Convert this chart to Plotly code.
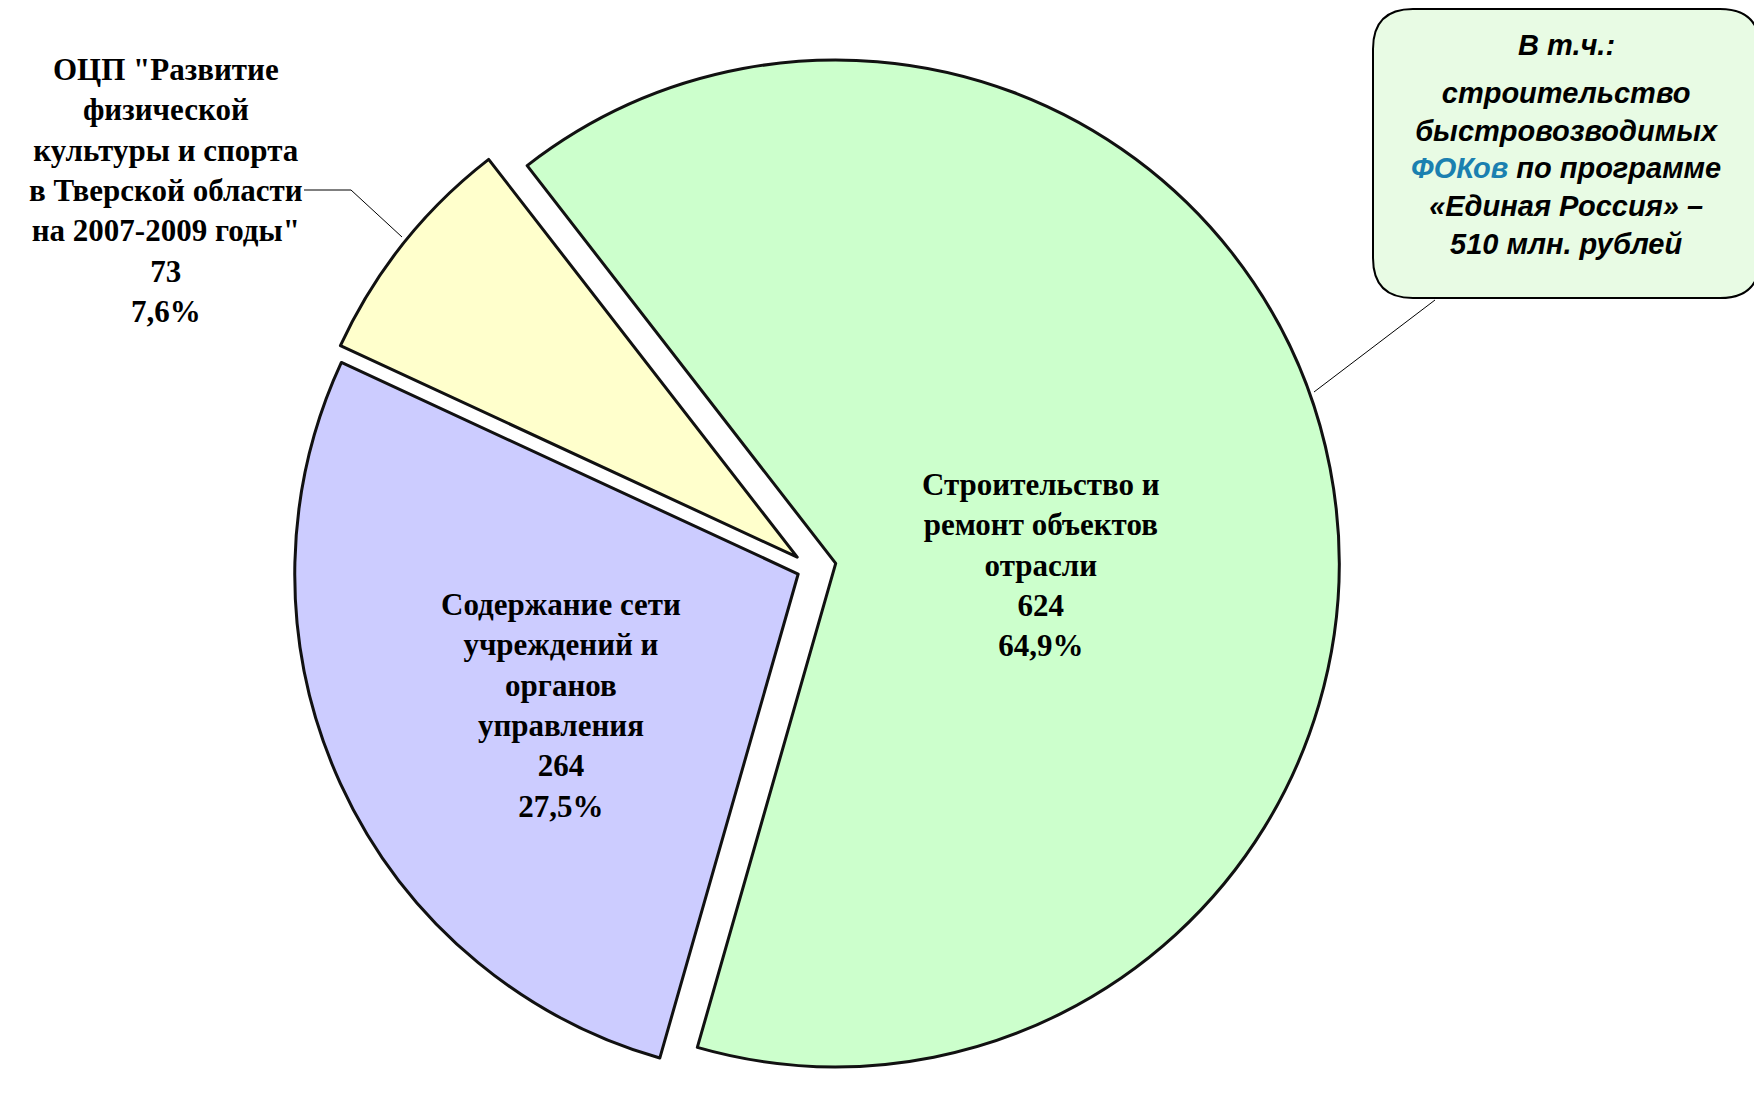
import plotly.graph_objects as go

# data
labels = ["Строительство и<br>ремонт объектов<br>отрасли",
          "Содержание сети<br>учреждений и<br>органов<br>управления",
          "ОЦП \"Развитие<br>физической<br>культуры и спорта<br>в Тверской области<br>на 2007-2009 годы\""]
values = [624, 264, 73]
colors = ["#CCFFCC", "#CCCCFF", "#FFFFCC"]
pulls = [0.05, 0.028, 0.035]

total = sum(values)
pcts = [f"{v / total * 100:.1f}".replace(".", ",") for v in values]
texts = [f"<b>{l}<br>{v}<br>{p}%</b>" for l, v, p in zip(labels, values, pcts)]

W, H = 1762, 1093
OFF = 8  # page margin of the html body


def px(x, y):
    # on-screen pixel position -> paper coords
    return (x - OFF) / W, 1 - (y - OFF) / H


cxp = (811 - OFF) / W
fig = go.Figure(go.Pie(
    labels=labels, values=values, sort=False, direction="clockwise",
    rotation=-37.8, pull=pulls, textinfo="none", hoverinfo="skip",
    marker=dict(colors=colors, line=dict(color="#111111", width=3)),
    domain=dict(x=[cxp - 0.3, cxp + 0.3], y=[0, 0.975]), showlegend=False,
))

serif = dict(family="Liberation Serif", size=31, color="black")
label_pos = [(1041, 565), (561, 705), (166, 190)]
for t, (x, y) in zip(texts, label_pos):
    ax, ay = px(x, y)
    fig.add_annotation(x=ax, y=ay, xref="paper", yref="paper", text=t,
                       xanchor="center", yanchor="middle",
                       showarrow=False, font=serif, align="center")

# leader line for the small slice
x0, y0 = px(304, 190)
x1, y1 = px(351, 190)
x2, y2 = px(402, 237)
fig.add_shape(type="path", xref="paper", yref="paper",
              path=f"M {x0},{y0} L {x1},{y1} L {x2},{y2}",
              line=dict(color="black", width=1))

# rounded callout box
bx0, by1 = px(1373, 9)
bx1, by0 = px(1760, 298)
rx, ry = 40 / W, 40 / H
box = (f"M {bx0 + rx},{by1} L {bx1 - rx},{by1} Q {bx1},{by1} {bx1},{by1 - ry} "
       f"L {bx1},{by0 + ry} Q {bx1},{by0} {bx1 - rx},{by0} "
       f"L {bx0 + rx},{by0} Q {bx0},{by0} {bx0},{by0 + ry} "
       f"L {bx0},{by1 - ry} Q {bx0},{by1} {bx0 + rx},{by1} Z")
fig.add_shape(type="path", xref="paper", yref="paper", path=box,
              fillcolor="#E8FBE4", line=dict(color="black", width=2))
tx0, ty0 = px(1435, 300)
tx1, ty1 = px(1314, 392)
fig.add_shape(type="line", xref="paper", yref="paper", x0=tx0, y0=ty0, x1=tx1, y1=ty1,
              line=dict(color="black", width=1))

sans = dict(family="Liberation Sans", size=29, color="black")
hx, hy = px(1566, 45)
fig.add_annotation(x=hx, y=hy, xref="paper", yref="paper", showarrow=False,
                   xanchor="center", yanchor="middle",
                   text="<b><i>В т.ч.:</i></b>", font=sans)
cx, cy = px(1566, 168)
fig.add_annotation(x=cx, y=cy, xref="paper", yref="paper", showarrow=False, align="center",
                   xanchor="center", yanchor="middle",
                   text="<b><i>строительство<br>быстровозводимых<br>"
                        "<span style='color:#1A80B0'>ФОКов</span> по программе<br>"
                        "«Единая Россия» –<br>510 млн. рублей</i></b>",
                   font=sans)

fig.update_layout(width=W, height=H, margin=dict(l=0, r=0, t=0, b=0),
                  paper_bgcolor="white", plot_bgcolor="white")
fig.write_html("out.html")
